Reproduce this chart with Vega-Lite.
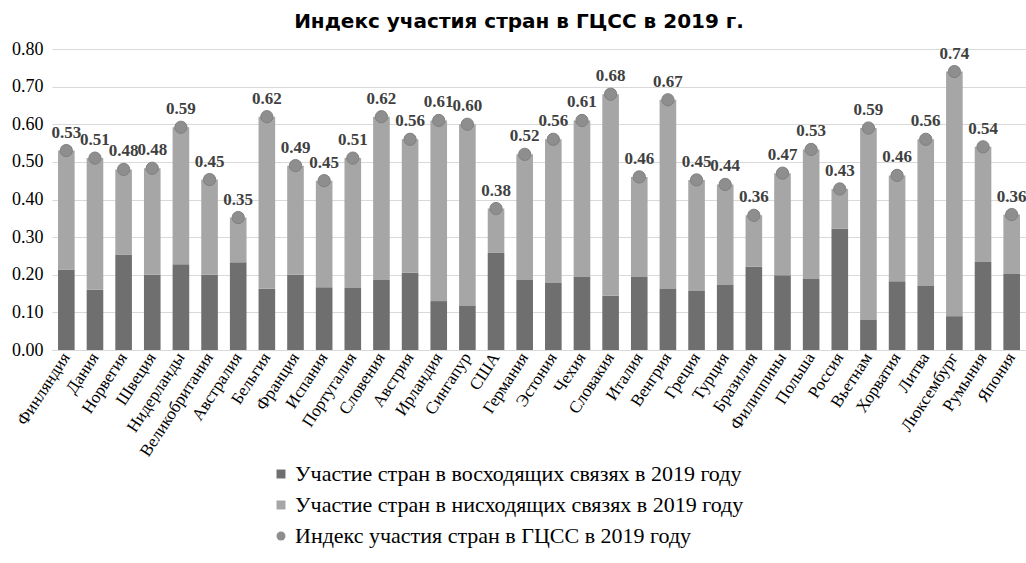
{
  "$schema": "https://vega.github.io/schema/vega-lite/v6.json",
  "width": 974,
  "height": 301,
  "autosize": {"type": "none"},
  "padding": {"left": 52, "top": 49, "right": 0, "bottom": 213},
  "background": "white",
  "title": {"text": "Индекс участия стран в ГЦСС в 2019 г.", "font": "DejaVu Sans", "fontSize": 20, "fontWeight": "bold", "color": "#000000", "anchor": "middle", "dx": -20, "offset": 8},
  "config": {
    "view": {"stroke": null},
    "axisX": {"labelAngle": -57, "labelFont": "Liberation Serif", "labelFontSize": 17, "labelColor": "#000000", "ticks": false, "domainColor": "#d9d9d9", "domainWidth": 1, "title": null, "labelPadding": 4, "grid": false},
    "axisY": {"grid": true, "gridColor": "#d9d9d9", "domain": false, "ticks": false, "labelFont": "Liberation Serif", "labelFontSize": 18, "labelColor": "#000000", "labelPadding": 9, "title": null, "labelOverlap": false, "values": [0, 0.1, 0.2, 0.3, 0.4, 0.5, 0.6, 0.7, 0.8], "format": ".2f"}
  },
  "data": {"values": [
    {"country": "Финляндия", "asc": 0.214, "desc": 0.316, "total": 0.53},
    {"country": "Дания", "asc": 0.160, "desc": 0.350, "total": 0.51},
    {"country": "Норвегия", "asc": 0.254, "desc": 0.226, "total": 0.48},
    {"country": "Швеция", "asc": 0.200, "desc": 0.283, "total": 0.483},
    {"country": "Нидерланды", "asc": 0.228, "desc": 0.364, "total": 0.592},
    {"country": "Великобритания", "asc": 0.200, "desc": 0.253, "total": 0.453},
    {"country": "Австралия", "asc": 0.233, "desc": 0.119, "total": 0.352},
    {"country": "Бельгия", "asc": 0.163, "desc": 0.457, "total": 0.62},
    {"country": "Франция", "asc": 0.200, "desc": 0.290, "total": 0.49},
    {"country": "Испания", "asc": 0.167, "desc": 0.283, "total": 0.45},
    {"country": "Португалия", "asc": 0.165, "desc": 0.345, "total": 0.51},
    {"country": "Словения", "asc": 0.186, "desc": 0.434, "total": 0.62},
    {"country": "Австрия", "asc": 0.205, "desc": 0.355, "total": 0.56},
    {"country": "Ирландия", "asc": 0.130, "desc": 0.480, "total": 0.61},
    {"country": "Сингапур", "asc": 0.117, "desc": 0.483, "total": 0.60},
    {"country": "США", "asc": 0.258, "desc": 0.118, "total": 0.376},
    {"country": "Германия", "asc": 0.186, "desc": 0.334, "total": 0.52},
    {"country": "Эстония", "asc": 0.178, "desc": 0.382, "total": 0.56},
    {"country": "Чехия", "asc": 0.194, "desc": 0.416, "total": 0.61},
    {"country": "Словакия", "asc": 0.144, "desc": 0.536, "total": 0.68},
    {"country": "Италия", "asc": 0.194, "desc": 0.266, "total": 0.46},
    {"country": "Венгрия", "asc": 0.162, "desc": 0.503, "total": 0.665},
    {"country": "Греция", "asc": 0.157, "desc": 0.295, "total": 0.452},
    {"country": "Турция", "asc": 0.173, "desc": 0.267, "total": 0.44},
    {"country": "Бразилия", "asc": 0.221, "desc": 0.137, "total": 0.358},
    {"country": "Филиппины", "asc": 0.199, "desc": 0.271, "total": 0.47},
    {"country": "Польша", "asc": 0.189, "desc": 0.344, "total": 0.533},
    {"country": "Россия", "asc": 0.322, "desc": 0.106, "total": 0.428},
    {"country": "Вьетнам", "asc": 0.080, "desc": 0.510, "total": 0.59},
    {"country": "Хорватия", "asc": 0.183, "desc": 0.281, "total": 0.464},
    {"country": "Литва", "asc": 0.170, "desc": 0.390, "total": 0.56},
    {"country": "Люксембург", "asc": 0.090, "desc": 0.650, "total": 0.74},
    {"country": "Румыния", "asc": 0.234, "desc": 0.306, "total": 0.54},
    {"country": "Япония", "asc": 0.202, "desc": 0.158, "total": 0.36}
  ]},
  "layer": [
    {
      "transform": [{"fold": ["asc", "desc"], "as": ["series", "value"]}],
      "mark": {"type": "bar"},
      "encoding": {
        "x": {"field": "country", "type": "nominal", "sort": null, "scale": {"paddingInner": 0.42, "paddingOuter": 0.21}},
        "y": {"field": "value", "type": "quantitative", "stack": "zero", "scale": {"domain": [0, 0.8], "nice": false}},
        "color": {
          "field": "series", "type": "nominal",
          "scale": {"domain": ["asc", "desc", "total"], "range": ["#6f6f6f", "#a6a6a6", "#8e8e8e"]},
          "legend": {
            "orient": "none", "legendX": 218, "legendY": 414, "title": null, "direction": "vertical",
            "labelFont": "Liberation Serif", "labelFontSize": 22, "labelColor": "#000000", "labelLimit": 0,
            "symbolSize": 80, "rowPadding": 9, "symbolType": "square", "symbolStrokeWidth": 0, "labelOffset": 3,
            "labelExpr": "datum.value == 'asc' ? 'Участие стран в восходящих связях в 2019 году' : datum.value == 'desc' ? 'Участие стран в нисходящих связях в 2019 году' : 'Индекс участия стран в ГЦСС в 2019 году'",
            "encode": {"symbols": {"update": {"shape": {"signal": "datum.value == 'total' ? 'circle' : 'square'"}}}}
          }
        },
        "order": {"field": "series", "sort": "ascending"}
      }
    },
    {
      "mark": {"type": "point", "filled": true, "size": 150, "opacity": 1, "stroke": "#808080", "strokeWidth": 1},
      "encoding": {
        "x": {"field": "country", "type": "nominal", "sort": null},
        "y": {"field": "total", "type": "quantitative"},
        "color": {"datum": "total", "type": "nominal"}
      }
    },
    {
      "mark": {"type": "text", "font": "Liberation Serif", "fontSize": 17, "fontWeight": "bold", "color": "#404040", "baseline": "bottom", "dy": -9},
      "encoding": {
        "x": {"field": "country", "type": "nominal", "sort": null},
        "y": {"field": "total", "type": "quantitative"},
        "text": {"field": "total", "type": "quantitative", "format": ".2f"}
      }
    }
  ]
}
